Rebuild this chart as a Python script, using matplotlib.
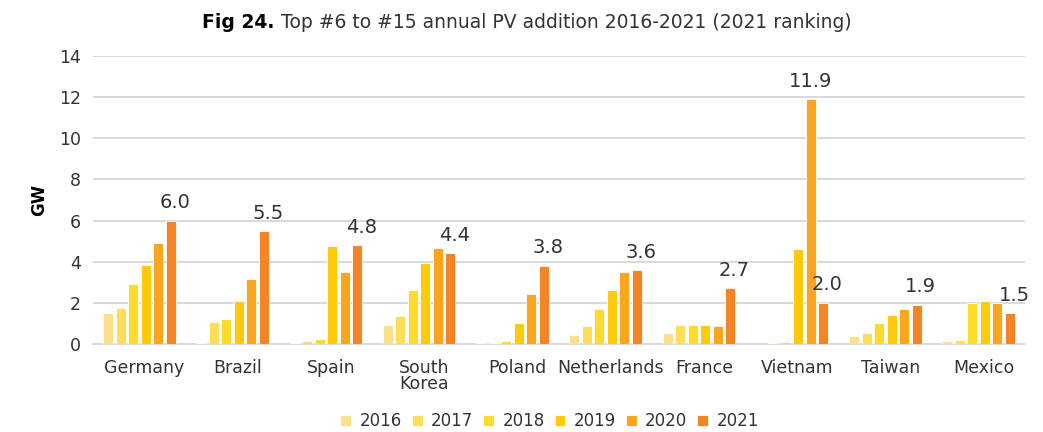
"""Top #6 to #15 annual PV addition 2016-2021, grouped bars."""
import matplotlib
matplotlib.use("Agg")
import matplotlib.pyplot as plt
import matplotlib.transforms as mtransforms
import numpy as np

countries = ["Germany", "Brazil", "Spain", "South\nKorea", "Poland",
             "Netherlands", "France", "Vietnam", "Taiwan", "Mexico"]
years = ["2016", "2017", "2018", "2019", "2020", "2021"]
colors = ["#FDE08A", "#FEDD5A", "#FDDB2C", "#FFCA0A", "#F9A61E", "#F48524"]

gw_2016 = [1.5, 0.02, 0.05, 0.9, 0.05, 0.45, 0.55, 0.0, 0.4, 0.15]
gw_2017 = [1.75, 1.05, 0.15, 1.35, 0.05, 0.85, 0.9, 0.02, 0.55, 0.2]
gw_2018 = [2.9, 1.2, 0.25, 2.6, 0.15, 1.7, 0.9, 0.1, 1.0, 2.0]
gw_2019 = [3.85, 2.1, 4.75, 3.95, 1.0, 2.6, 0.9, 4.6, 1.4, 2.1]
gw_2020 = [4.9, 3.15, 3.5, 4.65, 2.45, 3.5, 0.85, 11.9, 1.7, 2.0]
gw_2021 = [6.0, 5.5, 4.8, 4.4, 3.8, 3.6, 2.7, 2.0, 1.9, 1.5]
series = [gw_2016, gw_2017, gw_2018, gw_2019, gw_2020, gw_2021]

plt.rcParams["font.family"] = ["DejaVu Sans"]
text_col = "#333333"

fig, ax = plt.subplots(figsize=(10.43, 4.32), dpi=100)
fig.subplots_adjust(left=0.089, right=0.983, top=0.87, bottom=0.204)

x = np.arange(len(countries))
step = 0.134
width = 0.108
bars = []
for i, (yr, vals, c) in enumerate(zip(years, series, colors)):
    b = ax.bar(x + (i - 2.5) * step, vals, width, color=c, label=yr,
               edgecolor="white", linewidth=0.6, zorder=3)
    bars.append(b)

# value labels on 2021 bars, plus the Vietnam 2020 peak
for j, v in enumerate(gw_2021):
    r = bars[5][j]
    ax.annotate(f"{v:.1f}", (r.get_x() + r.get_width() / 2, v),
                xytext=(3, 6), textcoords="offset points",
                ha="center", va="bottom", fontsize=14, color=text_col)
vn = countries.index("Vietnam")
r = bars[4][vn]
ax.annotate(f"{gw_2020[vn]:.1f}", (r.get_x() + r.get_width() / 2, gw_2020[vn]),
            xytext=(0, 6), textcoords="offset points",
            ha="center", va="bottom", fontsize=14, color=text_col)

ax.set_xlim(-0.5, len(countries) - 0.5)
ax.set_ylim(0, 14)
ax.set_yticks(np.arange(0, 15, 2))
ax.set_xticks(x)
ax.set_xticklabels(countries, fontsize=12.5, color=text_col, linespacing=0.85)
ax.tick_params(axis="y", labelsize=12.5, colors=text_col, length=0, pad=8.5)
ax.tick_params(axis="x", length=0, pad=11)
# category labels sit a little right of their bar groups in the original
shift = mtransforms.ScaledTranslation(5 / 100, 0, fig.dpi_scale_trans)
for lab in ax.get_xticklabels():
    lab.set_transform(lab.get_transform() + shift)
ax.grid(axis="y", color="#d9d9d9", linewidth=1.4, zorder=0)
for s in ["top", "right", "left"]:
    ax.spines[s].set_visible(False)
ax.spines["bottom"].set_color("#d9d9d9")
ax.spines["bottom"].set_linewidth(1.4)
ax.set_ylabel("GW", fontsize=12, fontweight="bold", color="black", labelpad=8)

leg = ax.legend(loc="upper center", bbox_to_anchor=(0.49, -0.185), ncol=6,
                frameon=False, fontsize=12, handlelength=0.65, handleheight=0.65,
                handletextpad=0.5, columnspacing=0.6)
for t in leg.get_texts():
    t.set_color(text_col)

# title: bold prefix + regular remainder
fig.canvas.draw()
rend = fig.canvas.get_renderer()
t1 = fig.text(0, 0.935, "Fig 24.", fontsize=13.5, fontweight="bold", color="black")
t2 = fig.text(0, 0.935, " Top #6 to #15 annual PV addition 2016-2021 (2021 ranking)",
              fontsize=13.5, color=text_col)
w1 = t1.get_window_extent(rend).width
w2 = t2.get_window_extent(rend).width
W = fig.bbox.width
x0 = (527 - (w1 + w2) / 2) / W
t1.set_x(x0)
t2.set_x(x0 + w1 / W)

fig.savefig("out.png", dpi=100)
